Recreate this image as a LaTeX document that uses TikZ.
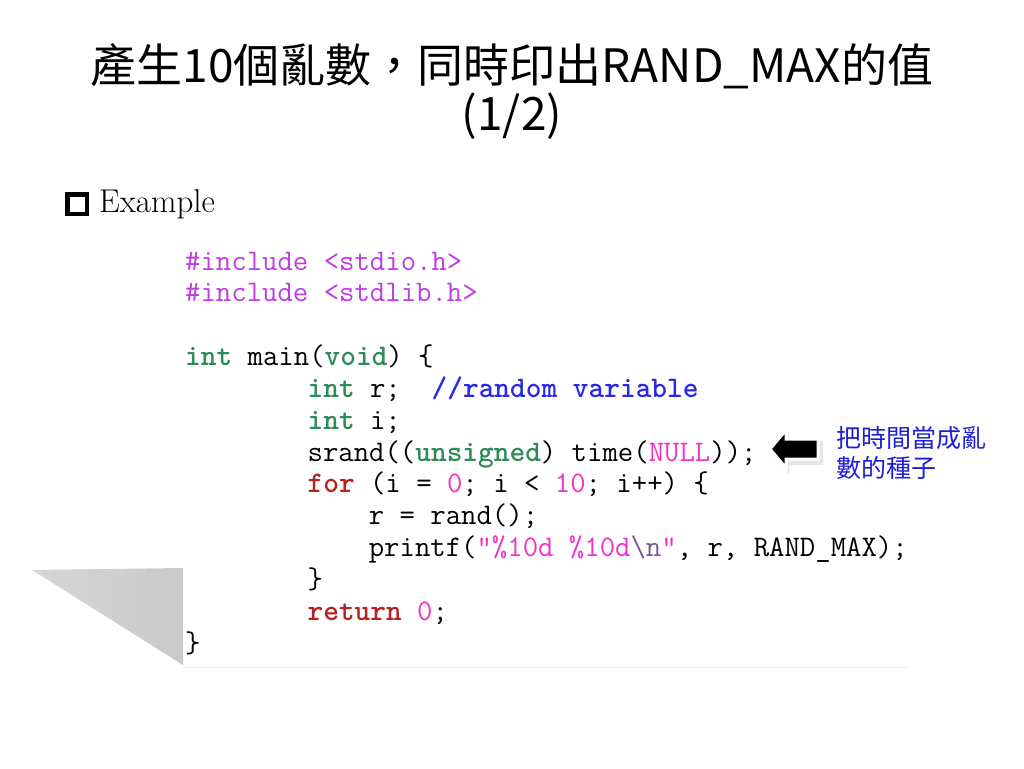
\documentclass[tikz,border=0pt]{standalone}
\usepackage{fontspec}
\usetikzlibrary{positioning}
\newfontfamily\cjk{Noto Sans CJK TC}
\definecolor{inclcol}{RGB}{190,60,225}
\definecolor{numcol}{RGB}{240,50,200}
\definecolor{esccol}{RGB}{120,90,140}
\definecolor{typecol}{RGB}{46,139,87}
\definecolor{ctrlcol}{RGB}{178,34,34}
\definecolor{cmtcol}{RGB}{40,40,230}
\definecolor{notecol}{RGB}{30,30,210}
\newcommand{\kwt}[1]{\textcolor{typecol}{\bfseries #1}}
\newcommand{\kwc}[1]{\textcolor{ctrlcol}{\bfseries #1}}
\newcommand{\lit}[1]{\textcolor{numcol}{#1}}

\begin{document}
\begin{tikzpicture}
            [x=1pt, y=-1pt,
             codeline/.style={anchor=base west, inner sep=0pt, font=\ttfamily\fontsize{29.9}{32}\selectfont},
             titleline/.style={inner sep=0pt, font=\cjk\fontsize{46}{50}\selectfont},
             sqbullet/.style={draw=black, line width=4.5pt, minimum size=19.5pt, inner sep=0pt}]
            \fill[white] (0,0) rectangle (1024,768);
            \useasboundingbox (0,0) rectangle (1024,768);

            % title
            \node[titleline] (title1) at (512,66) {產生10個亂數，同時印出RAND\_MAX的值};
            \node[titleline] (title2) at (512,116) {(1/2)};

            % bullet
            \node[sqbullet] (bul) at (77,204) {};
            \node[inner sep=0pt, anchor=west, font=\fontsize{33}{36}\selectfont, right=10pt of bul] (example) {Example};

            % page shadow and code box
            \shade[left color=black!16, right color=black!21] (32,570) -- (183,568) -- (183,665) -- cycle;
            \draw[gray!15, line width=1pt] (183,667) -- (910,667);

            % code
            \node[codeline] (inc1) at (185,270) {\textcolor{inclcol}{\#include <stdio.h>}};
            \node[codeline] (inc2) at (185,301.8) {\textcolor{inclcol}{\#include <stdlib.h>}};
            \node[codeline] (mainl) at (185,365.5) {\kwt{int} main(\kwt{void}) \{};
            \node[codeline] (decr) at (307.4,397.3) {\kwt{int} r;\ \ \textcolor{cmtcol}{\bfseries //random variable}};
            \node[codeline] (deci) at (307.4,429.2) {\kwt{int} i;};
            \node[codeline] (seed) at (307.4,461) {srand((\kwt{unsigned}) time(\lit{NULL}));};
            \node[codeline] (loop) at (307.4,492.8) {\kwc{for} (i = \lit{0}; i < \lit{10}; i++) \{};
            \node[codeline] (rnd) at (368.6,524.6) {r = rand();};
            \node[codeline] (prnt) at (368.6,556.5) {printf(\lit{"\%10d \%10d}\textcolor{esccol}{\textbackslash n}\lit{"}, r, RAND\_MAX);};
            \node[codeline] (cls1) at (307.4,588.3) {\}};
            \node[codeline] (ret) at (307.4,620.1) {\kwc{return} \lit{0};};
            \node[codeline] (cls2) at (185,652) {\}};

            % arrow and note
            \begin{scope}[shift={(3,4)}]
                \fill[gray!40, opacity=.5] (768,449) -- (786,428) -- (786,437) -- (820,437) -- (820,461) -- (786,461) -- (786,470) -- cycle;
            \end{scope}
            \draw[white, line width=3pt, fill=black, line join=miter] (770,449) -- (786,430) -- (786,439) -- (818,439) -- (818,459) -- (786,459) -- (786,468) -- cycle;
            \node[inner sep=0pt, anchor=west, align=left, text=notecol, font=\cjk\fontsize{25}{30}\selectfont] (note) at (836,453) {把時間當成亂\\數的種子};
        \end{tikzpicture}
\end{document}
